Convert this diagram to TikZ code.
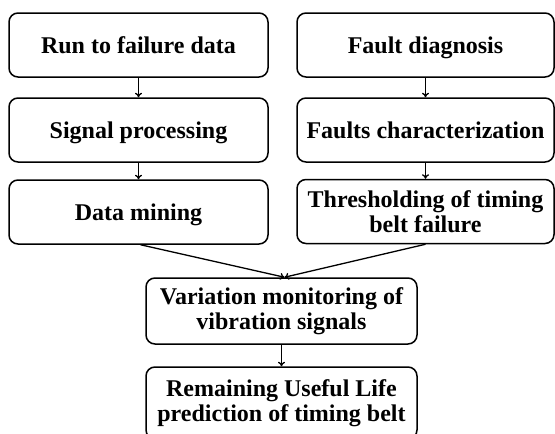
\documentclass[tikz,border=0pt]{standalone}
\usepackage{fontspec}
\setmainfont{Liberation Serif}
\usetikzlibrary{arrows.meta}
\begin{document}
\begin{tikzpicture}[x=1pt,y=-1pt,
  box/.style={draw, line width=1.5pt, rounded corners=9pt, inner sep=0pt, align=center,
    font=\fontsize{24}{25.5}\selectfont\bfseries},
  one/.style={text height=21.5pt, text depth=5pt},
  lbox/.style={box, minimum width=259pt, minimum height=64pt},
  rbox/.style={box, minimum width=257pt, minimum height=64pt},
  cbox/.style={box, minimum width=271pt, minimum height=66pt},
  conn/.style={-{To[length=4.5pt,width=7pt]}, line width=1.3pt}]
\useasboundingbox (0,0) rectangle (555,434);
\clip (0,0) rectangle (555,434);
\node[lbox, one] (a) at (138.5,45) {Run to failure data};
\node[lbox, one] (b) at (138.5,130) {Signal processing};
\node[lbox, one] (c) at (138.5,212) {Data mining};
\node[rbox, one] (d) at (425.5,45) {Fault diagnosis};
\node[rbox, one] (e) at (425.5,130) {Faults characterization};
\node[rbox] (f) at (425.5,211.5) {Thresholding of timing\\belt failure};
\node[cbox] (g) at (281.5,311) {Variation monitoring of\\vibration signals};
\node[box, minimum width=271pt, minimum height=72pt] (h) at (281.5,403) {Remaining Useful Life\\prediction of timing belt};
\coordinate (gt) at ([xshift=3pt]g.north);
\draw[conn] (a) -- (b);
\draw[conn] (b) -- (c);
\draw[conn] (d) -- (e);
\draw[conn] (e) -- (f);
\draw[conn] ([xshift=2pt]c.south) -- (gt);
\draw[conn] (f.south) -- (gt);
\draw[conn] (g) -- (h);
\end{tikzpicture}
\end{document}
